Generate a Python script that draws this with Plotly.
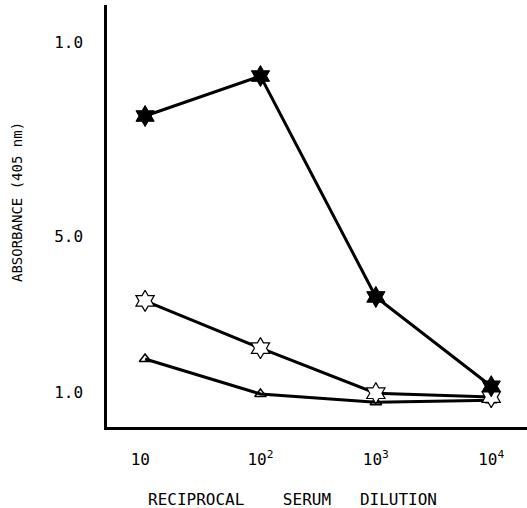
import plotly.graph_objects as go

dilution = [10, 100, 1000, 10000]
x_tick_text = ["10&nbsp;", "10<sup>2</sup>", "10<sup>3</sup>", "10<sup>4</sup>"]
y_tick_vals = [1.0, 5.0, 10.0]
y_tick_text = ["1.0", "5.0", "1.0"]

filled_star = [8.11, 9.14, 3.45, 1.15]
open_star = [3.35, 2.13, 0.97, 0.87]
open_triangle = [1.85, 0.95, 0.74, 0.79]

FONT = "DejaVu Sans Mono"

fig = go.Figure()
fig.add_trace(go.Scatter(
    x=dilution, y=open_triangle, mode="lines+markers",
    line=dict(color="black", width=3),
    marker=dict(symbol="triangle-up-open", size=10, color="black",
                line=dict(width=1.5, color="black")),
))
fig.add_trace(go.Scatter(
    x=dilution, y=open_star, mode="lines+markers",
    line=dict(color="black", width=3),
    marker=dict(symbol="hexagram", size=16, color="white",
                line=dict(width=1.2, color="black")),
))
fig.add_trace(go.Scatter(
    x=dilution, y=filled_star, mode="lines+markers",
    line=dict(color="black", width=3),
    marker=dict(symbol="hexagram", size=16, color="black",
                line=dict(width=1, color="black")),
))

fig.update_layout(
    width=527, height=508,
    margin=dict(l=107, r=0, t=5, b=81),
    paper_bgcolor="white", plot_bgcolor="white",
    showlegend=False,
    font=dict(family=FONT, color="black", size=16),
    xaxis=dict(
        type="log", range=[0.67, 4.31],
        tickvals=dilution, ticktext=x_tick_text,
        showgrid=False, zeroline=False, automargin=False,
        showline=True, linecolor="black", linewidth=2.5,
        ticks="outside", ticklen=16, tickcolor="rgba(0,0,0,0)",
        tickfont=dict(size=16, family=FONT),
    ),
    yaxis=dict(
        range=[0.10, 10.97],
        tickvals=y_tick_vals, ticktext=y_tick_text,
        showgrid=False, zeroline=False, automargin=False,
        showline=True, linecolor="black", linewidth=2.5,
        ticks="outside", ticklen=18, tickcolor="rgba(0,0,0,0)",
        tickfont=dict(size=16, family=FONT),
    ),
)
fig.add_annotation(
    text="ABSORBANCE (405 nm)", textangle=-90,
    xref="paper", yref="paper", x=-0.213, y=0.532,
    xanchor="center", yanchor="middle", showarrow=False,
    font=dict(size=14, family=FONT),
)
fig.add_annotation(
    text="RECIPROCAL    SERUM   DILUTION",
    xref="paper", yref="paper", x=0.441, y=-0.172,
    xanchor="center", yanchor="middle", showarrow=False,
    font=dict(size=16, family=FONT),
)

fig.write_html(
    "out.html",
    config={"displayModeBar": False},
    post_script="document.body.style.margin='0';document.body.style.overflow='hidden';",
)
